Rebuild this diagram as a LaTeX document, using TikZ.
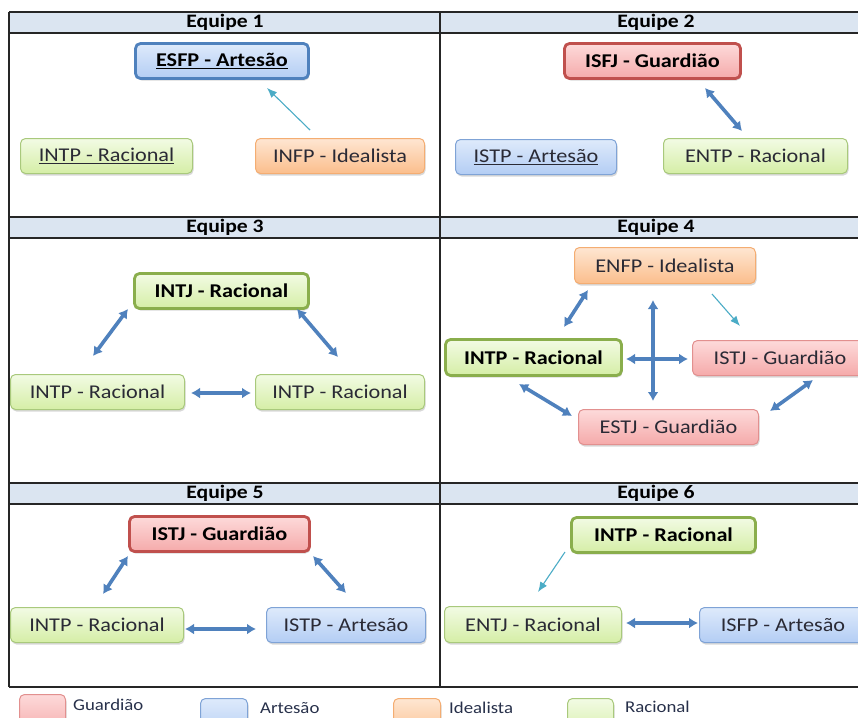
\documentclass[tikz,border=0pt]{standalone}
\usepackage{fontspec}
\setmainfont{Carlito}[FakeStretch=1.14]
\usetikzlibrary{arrows.meta,shadows}
\definecolor{hdr}{HTML}{DBE5F1}
\definecolor{gridc}{HTML}{262626}
\definecolor{txt}{HTML}{2A2A35}
\definecolor{ltxt}{HTML}{27304A}
\definecolor{gtop}{HTML}{F2FBE4}
\definecolor{gbot}{HTML}{D5EEA6}
\definecolor{gbrd}{HTML}{A9C97C}
\definecolor{gbrdk}{HTML}{8AAE4C}
\definecolor{rtop}{HTML}{FDDADA}
\definecolor{rbot}{HTML}{F5AAAA}
\definecolor{rbrd}{HTML}{E2908F}
\definecolor{rbrdk}{HTML}{C0504D}
\definecolor{btop}{HTML}{DEEAFB}
\definecolor{bbot}{HTML}{B3CDF4}
\definecolor{bbrd}{HTML}{7FA3D6}
\definecolor{bbrdk}{HTML}{4F81BD}
\definecolor{otop}{HTML}{FEE6D2}
\definecolor{obot}{HTML}{FBBE8C}
\definecolor{obrd}{HTML}{F4AD72}
\definecolor{arrblue}{HTML}{4F81BD}
\definecolor{arrteal}{HTML}{4BACC6}
\begin{document}
\begin{tikzpicture}[x=1pt,y=-1pt,
  box/.style={rounded corners=5pt, line width=1pt, inner sep=0pt,
    font=\fontsize{19.5}{22}\selectfont, text=txt,
    drop shadow={opacity=0.3, shadow xshift=1pt, shadow yshift=-2pt}},
  keybox/.style={line width=2.8pt, text=black,
    font=\fontsize{19.5}{22}\selectfont\bfseries},
  gbox/.style={box, draw=gbrd, top color=gtop, bottom color=gbot},
  rbox/.style={box, draw=rbrd, top color=rtop, bottom color=rbot},
  bbox/.style={box, draw=bbrd, top color=btop, bottom color=bbot},
  obox/.style={box, draw=obrd, top color=otop, bottom color=obot},
  gkey/.style={gbox, keybox, draw=gbrdk},
  rkey/.style={rbox, keybox, draw=rbrdk},
  bkey/.style={bbox, keybox, draw=bbrdk},
  sz/.style 2 args={minimum width=#1pt, minimum height=#2pt},
  hdrtxt/.style={font=\fontsize{19}{22}\selectfont\bfseries, text=black, inner sep=0pt},
  legtxt/.style={font=\fontsize{16.5}{18}\selectfont, text=ltxt, inner sep=0pt, anchor=west},
  dbl/.style={{Latex[length=9pt,width=11pt]}-{Latex[length=9pt,width=11pt]}, line width=3.6pt, draw=arrblue},
  thin/.style={-{Latex[length=10pt,width=8pt]}, line width=1.1pt, draw=arrteal},
  grid/.style={draw=gridc, line width=1.3pt}
]
\useasboundingbox (0,0) rectangle (858,717);
\begin{scope}
\clip (0,0) rectangle (858,717);
% table
\fill[white] (9,12) rectangle (858,687);
\fill[hdr] (9,12) rectangle (858,33);
\fill[hdr] (9,217) rectangle (858,238);
\fill[hdr] (9,483) rectangle (858,504);
\foreach \yy in {12,33,217,238,483,504,687} \draw[grid] (9,\yy) -- (860,\yy);
\draw[grid] (9,12) -- (9,687);
\draw[grid] (440,12) -- (440,687);
\node[hdrtxt] (h1) at (225,22.5) {Equipe 1};
\node[hdrtxt] (h2) at (656,22.5) {Equipe 2};
\node[hdrtxt] (h3) at (225,227.5) {Equipe 3};
\node[hdrtxt] (h4) at (656,227.5) {Equipe 4};
\node[hdrtxt] (h5) at (225,493.5) {Equipe 5};
\node[hdrtxt] (h6) at (656,493.5) {Equipe 6};

% Equipe 1
\node[bkey, sz={173}{35}] (esfp) at (222,61) {\underline{ESFP - Artesão}};
\node[gbox, sz={172}{35}] (intp1) at (106.5,156) {\underline{INTP - Racional}};
\node[obox, sz={169}{35}] (infp) at (340,156) {INFP - Idealista};
\coordinate (t1s) at (310,130);
\coordinate (t1e) at (267,88);
\draw[thin] (t1s) -- (t1e);

% Equipe 2
\node[rkey, sz={176}{35}] (isfj) at (652.5,61) {ISFJ - Guardião};
\node[bbox, sz={161}{35}] (istp2) at (536,157) {\underline{ISTP - Artesão}};
\node[gbox, sz={184}{35}] (entp) at (755.5,156) {ENTP - Racional};
\coordinate (d2a) at (705,88);
\coordinate (d2b) at (742,131);
\draw[dbl] (d2a) -- (d2b);

% Equipe 3
\node[gkey, sz={174}{35}] (intj) at (221.5,291) {INTJ - Racional};
\node[gbox, sz={174}{35}] (intp3a) at (97.5,392) {INTP - Racional};
\node[gbox, sz={169}{35}] (intp3b) at (340,392) {INTP - Racional};
\coordinate (d3a) at (128,309);
\coordinate (d3b) at (93,356);
\coordinate (d3c) at (297,309);
\coordinate (d3d) at (338,357);
\coordinate (d3e) at (191,393);
\coordinate (d3f) at (251,393);
\draw[dbl] (d3a) -- (d3b);
\draw[dbl] (d3c) -- (d3d);
\draw[dbl] (d3e) -- (d3f);

% Equipe 4
\node[obox, sz={181}{36}] (enfp) at (665,265.5) {ENFP - Idealista};
\node[gkey, sz={176}{36}] (intp4) at (533.5,357.5) {INTP - Racional};
\node[rbox, sz={175}{35}] (istj4) at (780,358) {ISTJ - Guardião};
\node[rbox, sz={180}{35}] (estj) at (668.5,427) {ESTJ - Guardião};
\coordinate (d4a) at (588,290);
\coordinate (d4b) at (564,327);
\coordinate (t4s) at (712,294);
\coordinate (t4e) at (740,326);
\coordinate (d4c) at (653,300);
\coordinate (d4d) at (653,401);
\coordinate (d4e) at (626,359);
\coordinate (d4f) at (688,359);
\coordinate (d4g) at (519,384);
\coordinate (d4h) at (572,416);
\coordinate (d4i) at (770,411);
\coordinate (d4j) at (813,380);
\draw[dbl] (d4a) -- (d4b);
\draw[thin] (t4s) -- (t4e);
\draw[dbl] (d4c) -- (d4d);
\draw[dbl] (d4e) -- (d4f);
\draw[dbl] (d4g) -- (d4h);
\draw[dbl] (d4i) -- (d4j);

% Equipe 5
\node[rkey, sz={180}{35}] (istj5) at (219.5,534) {ISTJ - Guardião};
\node[gbox, sz={173}{35}] (intp5) at (97,625) {INTP - Racional};
\node[bbox, sz={159}{35}] (istp5) at (346,625) {ISTP - Artesão};
\coordinate (d5a) at (128,556);
\coordinate (d5b) at (103,594);
\coordinate (d5c) at (313,556);
\coordinate (d5d) at (346,593);
\coordinate (d5e) at (185,629);
\coordinate (d5f) at (256,629);
\draw[dbl] (d5a) -- (d5b);
\draw[dbl] (d5c) -- (d5d);
\draw[dbl] (d5e) -- (d5f);

% Equipe 6
\node[gkey, sz={184}{35}] (intp6) at (663.5,535) {INTP - Racional};
\node[gbox, sz={177}{36}] (entj) at (533,624.5) {ENTJ - Racional};
\node[bbox, sz={167}{35}] (isfp) at (783,625) {ISFP - Artesão};
\coordinate (t6s) at (565,552);
\coordinate (t6e) at (538,592);
\coordinate (d6a) at (626,623);
\coordinate (d6b) at (698,623);
\draw[thin] (t6s) -- (t6e);
\draw[dbl] (d6a) -- (d6b);

% Legend
\node[rbox, sz={46}{40}, anchor=north west] (lg) at (19,694) {};
\node[bbox, sz={47}{40}, anchor=north west] (la) at (200,698) {};
\node[obox, sz={47}{40}, anchor=north west] (li) at (393,698) {};
\node[gbox, sz={46}{40}, anchor=north west] (lr) at (567,698) {};
\node[legtxt] (lgt) at (73,705) {Guardião};
\node[legtxt] (lat) at (260,708) {Artesão};
\node[legtxt] (lit) at (449,708) {Idealista};
\node[legtxt] (lrt) at (625,707) {Racional};
\end{scope}
\end{tikzpicture}
\end{document}
